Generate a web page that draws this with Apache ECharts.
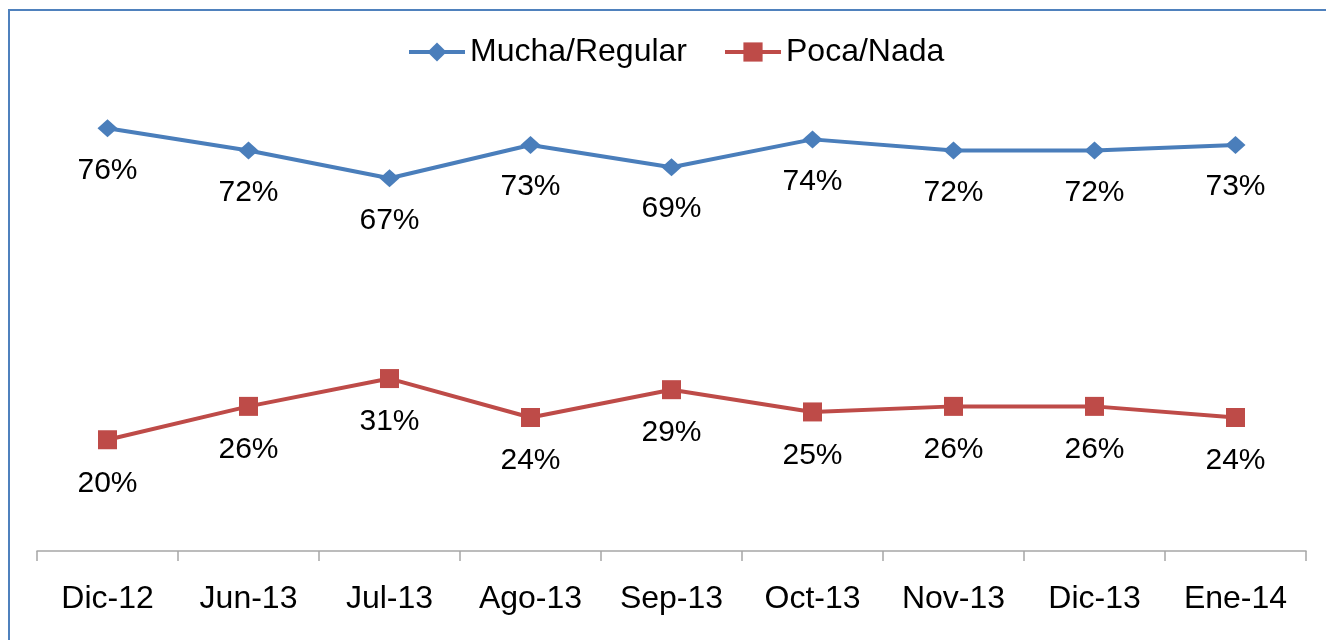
<!DOCTYPE html>
<html>
<head>
<meta charset="utf-8">
<script src="https://cdn.jsdelivr.net/npm/echarts@6/dist/echarts.min.js"></script>
<style>
  html, body { margin: 0; padding: 0; background: #fff; }
  #chart { width: 1326px; height: 640px; }
</style>
</head>
<body>
<div id="chart"></div>
<script>
// datos de la encuesta
var categories = ["Dic-12", "Jun-13", "Jul-13", "Ago-13", "Sep-13", "Oct-13", "Nov-13", "Dic-13", "Ene-14"];
var muchaRegular = [76, 72, 67, 73, 69, 74, 72, 72, 73];
var pocaNada = [20, 26, 31, 24, 29, 25, 26, 26, 24];
var seriesNames = ["Mucha/Regular", "Poca/Nada"];

var FONT = "Liberation Sans, Arial, sans-serif";

var chart = echarts.init(document.getElementById("chart"));
chart.setOption({
  animation: false,
  textStyle: { fontFamily: FONT },
  // marco azul del gráfico
  graphic: [
    {
      type: "rect",
      silent: true,
      shape: { x: 9, y: 10, width: 1400, height: 700 },
      style: { fill: "none", stroke: "#4f81bd", lineWidth: 2 }
    }
  ],
  legend: {
    top: 31,
    left: 402,
    itemWidth: 56,
    itemHeight: 24,
    itemGap: 36,
    lineStyle: { width: 4 },
    textStyle: { fontSize: 32, color: "#000", fontFamily: FONT },
    data: seriesNames
  },
  grid: { left: 37, right: 20, top: 106, bottom: 89 },
  xAxis: {
    type: "category",
    data: categories,
    boundaryGap: true,
    axisLine: { show: true, lineStyle: { color: "#a6a6a6", width: 1.5 } },
    axisTick: { show: true, length: 10, interval: 0, lineStyle: { color: "#a6a6a6", width: 1.5 } },
    axisLabel: { fontSize: 32, color: "#000", margin: 32, interval: 0, fontFamily: FONT }
  },
  yAxis: {
    type: "value",
    min: 0,
    max: 80,
    show: false,
    splitLine: { show: false }
  },
  series: [
    {
      name: seriesNames[0],
      type: "line",
      data: muchaRegular,
      symbol: "diamond",
      symbolSize: [20, 18],
      color: "#4a7ebb",
      lineStyle: { width: 4, color: "#4a7ebb" },
      label: {
        show: true,
        position: "bottom",
        distance: 18,
        formatter: "{c}%",
        fontSize: 30,
        color: "#000",
        fontFamily: FONT
      }
    },
    {
      name: seriesNames[1],
      type: "line",
      data: pocaNada,
      symbol: "rect",
      symbolSize: 19,
      color: "#be4b48",
      lineStyle: { width: 4, color: "#be4b48" },
      label: {
        show: true,
        position: "bottom",
        distance: 19,
        formatter: "{c}%",
        fontSize: 30,
        color: "#000",
        fontFamily: FONT
      }
    }
  ]
});
window.onresize = function () {
  chart.resize();
};
</script>
</body>
</html>
